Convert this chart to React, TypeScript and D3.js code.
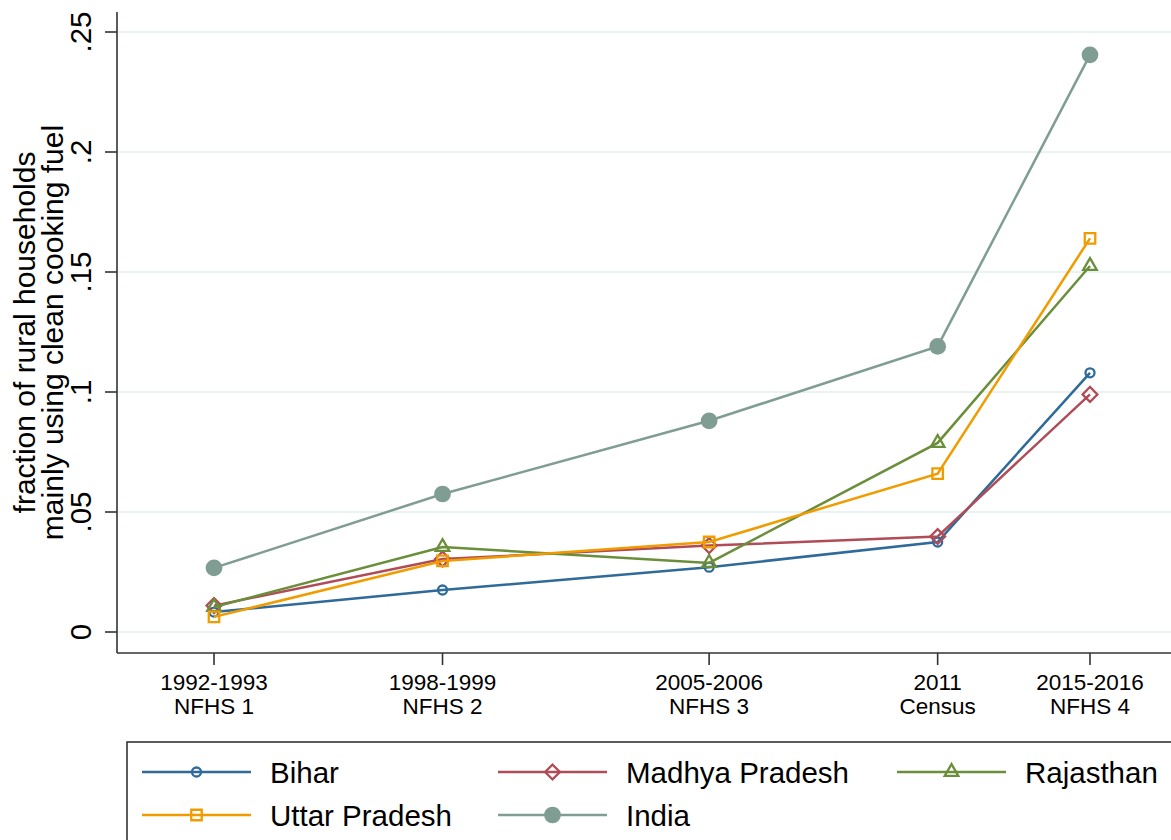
import * as d3 from "d3";

const surveys = ["1992-1993", "1998-1999", "2005-2006", "2011", "2015-2016"];
const sources = ["NFHS 1", "NFHS 2", "NFHS 3", "Census", "NFHS 4"];
const surveyYear = [1992.5, 1998.5, 2005.5, 2011.5, 2015.5];

const bihar = [0.0083, 0.0175, 0.027, 0.0375, 0.108];
const madhyaPradesh = [0.011, 0.0304, 0.036, 0.0398, 0.099];
const rajasthan = [0.0104, 0.0354, 0.0288, 0.0788, 0.1525];
const uttarPradesh = [0.0063, 0.0296, 0.0375, 0.066, 0.164];
const india = [0.0267, 0.0575, 0.088, 0.119, 0.2405];

const yTicks = [0, 0.05, 0.1, 0.15, 0.2, 0.25];
const yTickLabels = ["0", ".05", ".1", ".15", ".2", ".25"];

type Marker = "circle" | "diamond" | "triangle" | "square" | "dot";

const series: { name: string; values: number[]; color: string; marker: Marker }[] = [
  { name: "Bihar", values: bihar, color: "#2f6a98", marker: "circle" },
  { name: "Madhya Pradesh", values: madhyaPradesh, color: "#b04c57", marker: "diamond" },
  { name: "Rajasthan", values: rajasthan, color: "#6a8e3a", marker: "triangle" },
  { name: "Uttar Pradesh", values: uttarPradesh, color: "#f09c00", marker: "square" },
  { name: "India", values: india, color: "#7f9d93", marker: "dot" },
];

const W = 1171;
const H = 840;
const plotLeft = 117;
const plotTop = 12;
const plotBottom = 653;
const plotRight = 1190;
const font = "'Liberation Sans', Arial, Helvetica, sans-serif";

const x = d3.scaleLinear().domain([1992.5, 2015.5]).range([214, 1090]);
const y = d3.scaleLinear().domain([0, 0.25]).range([632, 32]);

const symbolPath = (m: Marker) => {
  switch (m) {
    case "circle":
      return d3.symbol(d3.symbolCircle, 64)()!;
    case "diamond":
      return d3.symbol(d3.symbolSquare, 110)()!;
    case "triangle":
      return d3.symbol(d3.symbolTriangle, 80)()!;
    case "square":
      return d3.symbol(d3.symbolSquare, 110)()!;
    case "dot":
      return d3.symbol(d3.symbolCircle, 220)()!;
  }
};

const MarkerMark = ({ m, color, cx, cy }: { m: Marker; color: string; cx: number; cy: number }) => (
  <path
    d={symbolPath(m)}
    transform={`translate(${cx},${cy})${m === "diamond" ? " rotate(45)" : ""}`}
    fill={m === "dot" ? color : "none"}
    stroke={color}
    strokeWidth={m === "dot" ? 0 : 2.3}
  />
);

const legendCols = [142, 498, 897];
const legendRows = [772, 815];

export default function App() {
  const line = d3
    .line<number>()
    .x((_, i) => x(surveyYear[i]))
    .y((d) => y(d));

  return (
    <svg
      width={W}
      height={H}
      style={{ position: "absolute", left: 0, top: 0, background: "#fff" }}
      fontFamily={font}
    >
      {/* gridlines */}
      {yTicks.map((t) => (
        <line key={t} x1={plotLeft + 1} x2={plotRight} y1={y(t)} y2={y(t)} stroke="#eaf2f2" strokeWidth={2} />
      ))}

      {/* axes */}
      <line x1={plotLeft} x2={plotLeft} y1={plotTop} y2={plotBottom} stroke="#333" strokeWidth={1.6} />
      <line x1={plotLeft} x2={plotRight} y1={plotBottom} y2={plotBottom} stroke="#333" strokeWidth={1.6} />

      {yTicks.map((t, i) => (
        <g key={t}>
          <line x1={plotLeft - 12} x2={plotLeft} y1={y(t)} y2={y(t)} stroke="#333" strokeWidth={1.6} />
          <text
            transform={`translate(91,${y(t)}) rotate(-90)`}
            textAnchor="middle"
            fontSize={29.5}
            fill="#000"
          >
            {yTickLabels[i]}
          </text>
        </g>
      ))}

      {surveyYear.map((yr, i) => (
        <g key={yr}>
          <line x1={x(yr)} x2={x(yr)} y1={plotBottom} y2={plotBottom + 12} stroke="#333" strokeWidth={1.6} />
          <text x={x(yr)} y={690} textAnchor="middle" fontSize={22.5} fill="#000">
            {surveys[i]}
          </text>
          <text x={x(yr)} y={714} textAnchor="middle" fontSize={22.5} fill="#000">
            {sources[i]}
          </text>
        </g>
      ))}

      {/* y title */}
      <text
        transform={`translate(35,${(plotTop + plotBottom) / 2}) rotate(-90)`}
        textAnchor="middle"
        fontSize={30}
        fill="#000"
      >
        fraction of rural households
      </text>
      <text
        transform={`translate(63,${(plotTop + plotBottom) / 2}) rotate(-90)`}
        textAnchor="middle"
        fontSize={30}
        fill="#000"
      >
        mainly using clean cooking fuel
      </text>

      {/* series */}
      {series.map((s) => (
        <g key={s.name}>
          <path d={line(s.values)!} fill="none" stroke={s.color} strokeWidth={2.5} />
          {s.values.map((v, i) => (
            <MarkerMark key={i} m={s.marker} color={s.color} cx={x(surveyYear[i])} cy={y(v)} />
          ))}
        </g>
      ))}

      {/* legend */}
      <rect x={127} y={742} width={1100} height={200} fill="#fff" stroke="#333" strokeWidth={1.6} />
      {series.map((s, i) => {
        const lx = legendCols[i % 3];
        const ly = legendRows[Math.floor(i / 3)];
        return (
          <g key={s.name}>
            <line x1={lx} x2={lx + 109} y1={ly} y2={ly} stroke={s.color} strokeWidth={2.5} />
            <MarkerMark m={s.marker} color={s.color} cx={lx + 54.5} cy={ly} />
            <text x={lx + 128} y={ly + 11} fontSize={29.5} fill="#000">
              {s.name}
            </text>
          </g>
        );
      })}
    </svg>
  );
}
